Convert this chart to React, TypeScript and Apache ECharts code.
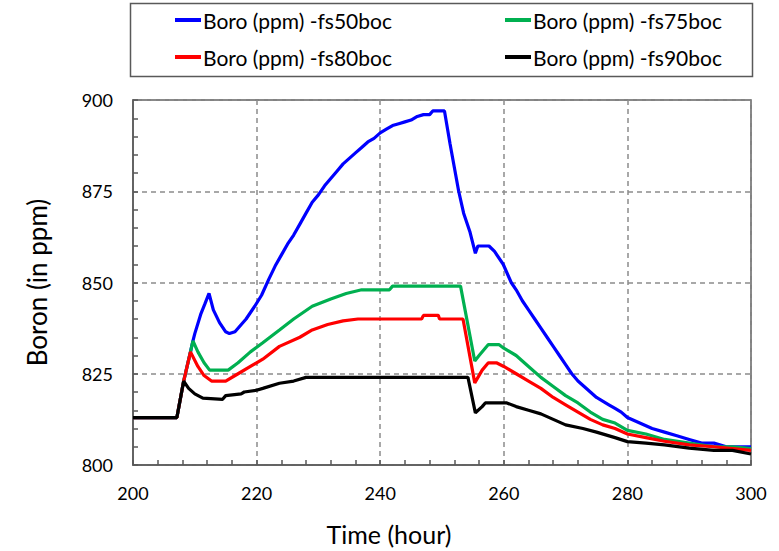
import React, { useEffect, useRef } from "react";
import * as echarts from "echarts";

const seriesNames = [
  "Boro (ppm) -fs50boc",
  "Boro (ppm) -fs75boc",
  "Boro (ppm) -fs80boc",
  "Boro (ppm) -fs90boc",
];
const seriesColors = ["#0000FF", "#00B050", "#FF0000", "#000000"];

const xTicks = [200, 220, 240, 260, 280, 300];
const yTicks = [800, 825, 850, 875, 900];
const xTitle = "Time (hour)";
const yTitle = "Boron (in ppm)";

const blueHours = [200, 207.1, 208.2, 209.3, 209.7, 210, 211, 211.6, 212.3, 213, 214, 215, 215.6, 216.5, 218.3, 219.7, 220.8, 222, 223, 224, 225, 226, 227, 228, 229, 230, 231, 232, 233, 234, 235, 236, 237, 238, 239, 240, 241, 242, 243, 244, 245, 246, 247, 248, 248.5, 250.4, 251.3, 252.7, 253.5, 254.5, 255.4, 255.8, 257.6, 258.5, 259.9, 261.2, 262, 263, 264, 265, 266, 267, 268, 269, 270, 271, 272, 273, 274, 275, 276, 277, 278, 279, 280, 282, 284, 286, 288, 290, 292, 294, 296, 298, 300];
const blueValues = [813, 813, 823, 831, 834, 836, 841.5, 844, 847, 842.5, 839, 836.5, 836, 836.5, 840, 843.5, 846.5, 851, 854.5, 857.5, 860.5, 863, 866, 869, 872, 874, 876.5, 878.5, 880.5, 882.5, 884, 885.5, 887, 888.5, 889.5, 891, 892, 893, 893.5, 894, 894.5, 895.5, 896, 896, 897, 897, 888, 875, 869, 864, 858, 860, 860, 858.5, 855, 850, 848, 845, 842.5, 840, 837.5, 835, 832.5, 830, 827.5, 825, 823, 821.5, 820, 818.5, 817.5, 816.5, 815.5, 814.5, 813, 811.5, 810, 809, 808, 807, 806, 806, 805, 805, 805];

const greenHours = [200, 207.1, 208.2, 209.3, 209.7, 210.5, 211.5, 212.4, 215.4, 217, 219, 221, 223.7, 226, 229, 232, 234.5, 237, 241.5, 242, 253, 255.3, 256, 257.5, 259.2, 260, 262, 264, 266, 268, 270, 272, 274, 276, 278, 280, 283, 286, 290, 294, 297, 300];
const greenValues = [813, 813, 823, 831, 834, 831, 828, 826, 826, 828, 831, 833.5, 837, 840, 843.5, 845.5, 847, 848, 848, 849, 849, 828.5, 830, 833, 833, 832, 830, 827, 824, 821.5, 819, 817, 814.5, 812.5, 811.5, 809.5, 808.5, 807, 806, 805, 805, 804.5];

const redHours = [200, 207.1, 208.2, 209.3, 210.5, 211.5, 212.7, 215, 217, 219, 221, 223.7, 227, 229, 231.5, 234, 236.4, 246.7, 247, 249.4, 249.6, 253.4, 255.3, 256.5, 257.5, 258.8, 260, 262, 264, 266, 268, 270, 272, 274, 276, 278, 280, 283, 286, 290, 294, 297, 300];
const redValues = [813, 813, 823, 831, 827, 824.5, 823, 823, 825, 827, 829, 832.5, 835, 837, 838.5, 839.5, 840, 840, 841, 841, 840, 840, 822.5, 826, 828, 828, 827, 825, 823, 821, 818.5, 816.5, 814.5, 812.5, 811, 810, 808.5, 807.5, 806.5, 805.5, 805, 804.5, 804];

const blackHours = [200, 207.1, 208.2, 209, 210, 211.3, 214.5, 215, 217.5, 218, 220, 221, 223.7, 226, 228, 254.2, 255.4, 256.5, 257, 260.5, 262, 264, 266, 268, 270, 272.8, 275, 278, 280, 283, 286, 290, 294, 297, 300];
const blackValues = [813, 813, 823, 821, 819.5, 818.3, 818, 819, 819.5, 820, 820.5, 821, 822.4, 823, 824, 824, 814.3, 816, 817, 817, 816, 815, 814, 812.5, 811, 810, 809, 807.5, 806.4, 806, 805.5, 804.6, 804, 804, 803];

const seriesHours = [blueHours, greenHours, redHours, blackHours];
const seriesValues = [blueValues, greenValues, redValues, blackValues];

const FONT = "Lato, 'Open Sans', sans-serif";

export default function App() {
  const ref = useRef<HTMLDivElement>(null);
  useEffect(() => {
    if (!ref.current) return;
    const chart = echarts.init(ref.current, undefined, { renderer: "svg" });
    const series = seriesNames.map((name, i) => ({
      name,
      type: "line",
      showSymbol: false,
      symbol: "none",
      data: seriesHours[i].map((h, j) => [h, seriesValues[i][j]]),
      lineStyle: { color: seriesColors[i], width: 3.2 },
      itemStyle: { color: seriesColors[i] },
      z: 2 + i,
    }));
    const legendCommon = {
      orient: "vertical",
      icon: "rect",
      itemWidth: 26,
      itemHeight: 4,
      itemGap: 13,
      top: 8,
      padding: 0,
      textStyle: { fontFamily: FONT, fontSize: 21, color: "#000", lineHeight: 24, padding: [0, 0, 0, -3] },
    };
    chart.setOption({
      animation: false,
      textStyle: { fontFamily: FONT },
      legend: [
        { ...legendCommon, left: 175, data: [seriesNames[0], seriesNames[2]] },
        { ...legendCommon, left: 505, data: [seriesNames[1], seriesNames[3]] },
      ],
      graphic: [
        {
          type: "rect",
          shape: { x: 130.5, y: 3.5, width: 622, height: 73 },
          style: { fill: "none", stroke: "#595959", lineWidth: 1.5 },
          silent: true,
        },
        {
          type: "text",
          x: 389,
          y: 534,
          style: {
            text: xTitle,
            fontFamily: FONT,
            fontSize: 25,
            fill: "#000",
            textAlign: "center",
            textVerticalAlign: "middle",
          },
          silent: true,
        },
      ],
      grid: {
        left: 133,
        right: 28,
        top: 100,
        bottom: 86,
        show: true,
        borderColor: "#595959",
        borderWidth: 1.5,
        backgroundColor: "transparent",
      },
      xAxis: {
        type: "value",
        min: xTicks[0],
        max: xTicks[xTicks.length - 1],
        interval: 20,
        axisLine: { show: true, lineStyle: { color: "#595959", width: 1.5 } },
        axisTick: { show: true, inside: true, length: 5, lineStyle: { color: "#595959", width: 1.5 } },
        minorTick: { show: true, splitNumber: 5, length: 5, lineStyle: { color: "#595959", width: 1.5 } },
        axisLabel: {
          fontFamily: FONT,
          fontSize: 18,
          color: "#000",
          margin: 19,
          formatter: (v: number) => (xTicks.includes(v) ? String(v) : ""),
        },
        splitLine: { show: true, lineStyle: { color: "#8c8c8c", type: [5, 4], width: 1.5 } },
      },
      yAxis: {
        type: "value",
        min: yTicks[0],
        max: yTicks[yTicks.length - 1],
        interval: 25,
        name: yTitle,
        nameLocation: "middle",
        nameGap: 83,
        nameTextStyle: { fontFamily: FONT, fontSize: 26, color: "#000" },
        axisLine: { show: true, lineStyle: { color: "#595959", width: 1.5 } },
        axisTick: { show: true, inside: true, length: 5, lineStyle: { color: "#595959", width: 1.5 } },
        minorTick: { show: true, splitNumber: 5, length: 5, lineStyle: { color: "#595959", width: 1.5 } },
        axisLabel: {
          fontFamily: FONT,
          fontSize: 18,
          color: "#000",
          margin: 20,
          formatter: (v: number) => (yTicks.includes(v) ? String(v) : ""),
        },
        splitLine: { show: true, lineStyle: { color: "#8c8c8c", type: [5, 4], width: 1.5 } },
      },
      series,
    });
    return () => chart.dispose();
  }, []);
  return <div ref={ref} style={{ width: 779, height: 551, position: "absolute", left: 0, top: 0 }} />;
}
